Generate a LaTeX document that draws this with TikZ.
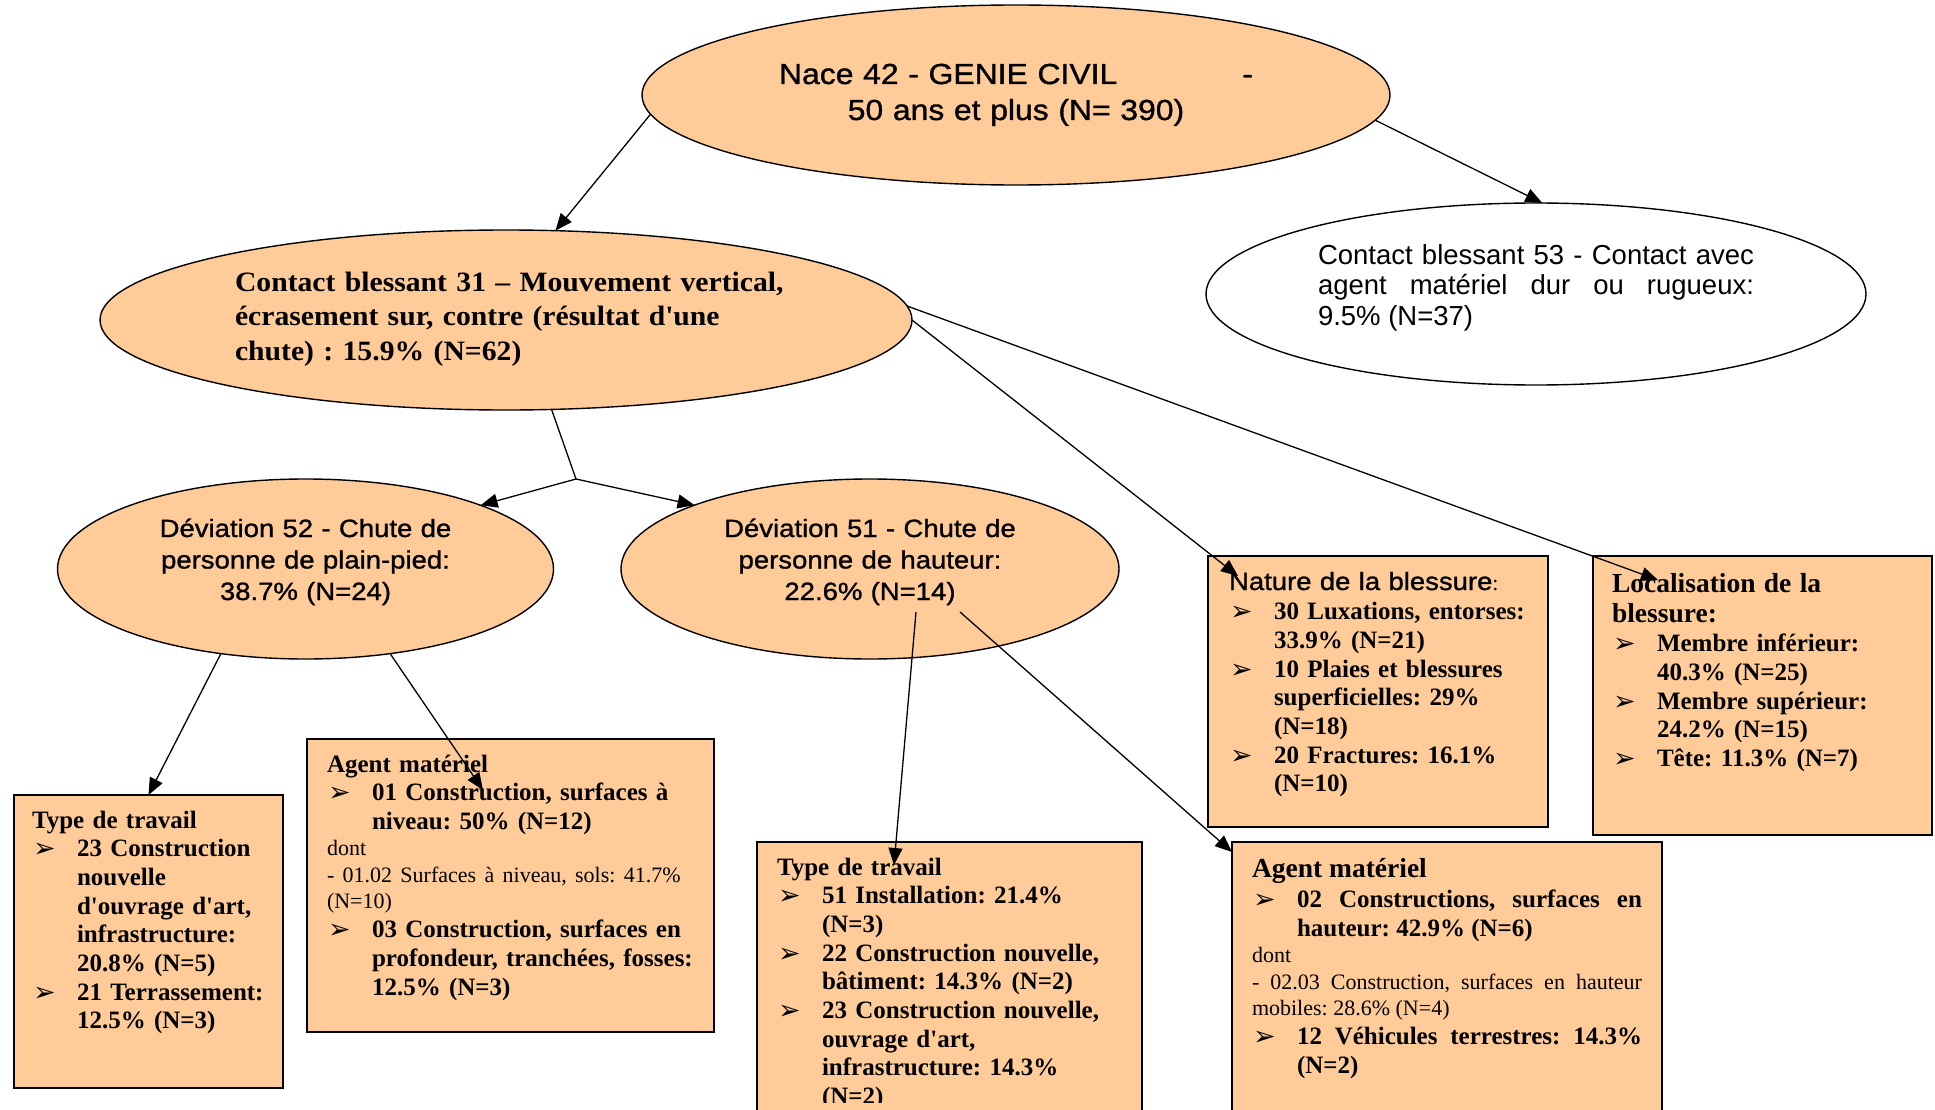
\documentclass[tikz,border=0pt]{standalone}
\usepackage{fontspec}
\setmainfont{Liberation Serif}
\newfontfamily\sansR{Liberation Sans}
\newfontfamily\sansW{Liberation Sans}[FakeStretch=1.1,FakeBold=1.1]
\newfontfamily\serifW{Liberation Serif}[FakeStretch=1.06]
\newfontfamily\dingf{DejaVu Sans}
\usetikzlibrary{arrows.meta,calc,shapes.geometric}
\definecolor{peach}{RGB}{255,204,153}

\newcommand\aq{\textquotesingle}
\newcommand\fl{\rule{0pt}{22pt}}
\newcommand\nl{\hfil\break}
\newcommand\bul{\smash{\raisebox{-1pt}{\dingf\fontsize{27}{27}\selectfont ➢}}}
\newcommand\itm[1]{\par\noindent\hangindent=45pt\hangafter=1\makebox[45pt][l]{\hspace{1pt}\bul}#1}

\tikzset{
  ov/.style={ellipse, draw=black, line width=1.4pt, fill=peach, inner sep=0pt, outer sep=0pt},
  bx/.style={rectangle, draw=black, line width=1.6pt, fill=peach, inner sep=0pt, outer sep=0pt, anchor=north west},
  tx/.style={inner sep=0pt, outer sep=0pt, anchor=north west, align=left, execute at begin node=\frenchspacing},
  boxfont/.style={font=\fontsize{25}{28.7}\selectfont\bfseries},
  conn/.style={line width=1.3pt, -{Triangle[length=17pt,width=14pt]}},
  seg/.style={line width=1.3pt},
}

\begin{document}
\begin{tikzpicture}[x=1pt,y=-1pt]
\useasboundingbox (0,0) rectangle (1935,1110);
\clip (0,0) rectangle (1935,1110);

% ---- ellipses ----
\node[ov, minimum width=748pt, minimum height=180pt] (nace) at (1016,95) {};
\node[ov, minimum width=812pt, minimum height=180pt] (c31) at (506,320) {};
\node[ov, fill=white, minimum width=660pt, minimum height=182pt] (c53) at (1536,294) {};
\node[ov, minimum width=496pt, minimum height=180pt] (dev52) at (305.5,569) {};
\node[ov, minimum width=498pt, minimum height=180pt] (dev51) at (870,569) {};

% ---- ellipse texts ----
\node[tx, anchor=north, text width=620pt, align=center, font=\sansW\fontsize{29}{36}\selectfont] (naceT) at (1016,62)
  {\fl Nace 42 - GENIE CIVIL\hspace{125pt}-\\ 50 ans et plus (N= 390)};
\node[tx, text width=600pt, font=\serifW\bfseries\fontsize{28}{34.5}\selectfont] (c31T) at (235,269)
  {\fl Contact blessant 31 – Mouvement vertical,\\ écrasement sur, contre (résultat d\aq une\\ chute) : 15.9\% (N=62)};
\node[tx, text width=436pt, align=justify, font=\sansR\fontsize{27.5}{30.5}\selectfont] (c53T) at (1318,242)
  {\noindent\fl Contact blessant 53 - Contact avec\linebreak agent matériel dur ou rugueux:\linebreak 9.5\% (N=37)};
\node[tx, anchor=north, text width=420pt, align=center, font=\sansW\fontsize{25}{31.5}\selectfont] (dev52T) at (305.5,515)
  {\fl Déviation 52 - Chute de\\ personne de plain-pied:\\ 38.7\% (N=24)};
\node[tx, anchor=north, text width=420pt, align=center, font=\sansW\fontsize{25}{31.5}\selectfont] (dev51T) at (870,515)
  {\fl Déviation 51 - Chute de\\ personne de hauteur:\\ 22.6\% (N=14)};

% ---- boxes ----
\node[bx, minimum width=269pt, minimum height=293pt] (ltt) at (14,795) {};
\node[bx, minimum width=407pt, minimum height=293pt] (lag) at (307,739) {};
\node[bx, minimum width=385pt, minimum height=300pt] (mtt) at (757,842) {};
\node[bx, minimum width=430pt, minimum height=300pt] (rag) at (1232,842) {};
\node[bx, minimum width=340pt, minimum height=271pt] (nat) at (1208,556) {};
\node[bx, minimum width=339pt, minimum height=279pt] (loc) at (1593,556) {};

% ---- box texts ----
\node[tx, boxfont, text width=245pt] (lttT) at (32,806) {%
  \noindent\fl Type de travail\par
  \itm{23 Construction\nl nouvelle\nl d\aq ouvrage d\aq art,\nl infrastructure:\nl 20.8\% (N=5)}\par
  \itm{21 Terrassement:\nl 12.5\% (N=3)}\par};

\node[tx, boxfont, text width=380pt] (lagT) at (327,750) {%
  \noindent\fl Agent matériel\par
  \itm{01 Construction, surfaces à\nl niveau: 50\% (N=12)}\par
  \fontsize{22}{26.5}\selectfont\mdseries
  \noindent dont\par
  \noindent - 01.02 Surfaces à niveau, sols: 41.7\%\\ (N=10)\par
  \fontsize{25}{28.7}\selectfont\bfseries
  \itm{03 Construction, surfaces en\nl profondeur, tranchées, fosses:\nl 12.5\% (N=3)}\par};

\begin{scope}
  \clip (757,842) rectangle (1142,1102);
  \node[tx, boxfont, text width=360pt] (mttT) at (777,853) {%
    \noindent\fl Type de travail\par
    \itm{51 Installation: 21.4\%\nl (N=3)}\par
    \itm{22 Construction nouvelle,\nl bâtiment: 14.3\% (N=2)}\par
    \itm{23 Construction nouvelle,\nl ouvrage d\aq art,\nl infrastructure: 14.3\%\nl (N=2)}\par};
\end{scope}

\node[tx, boxfont, text width=390pt, align=justify] (ragT) at (1252,855) {%
  \fontsize{27.5}{30}\selectfont
  \noindent\fl Agent matériel\par
  \vspace{2pt}
  \fontsize{25}{28.7}\selectfont
  \itm{02 Constructions, surfaces en\linebreak hauteur: 42.9\% (N=6)}\par
  \fontsize{22}{26.5}\selectfont\mdseries
  \noindent dont\par
  \noindent - 02.03 Construction, surfaces en hauteur\linebreak mobiles: 28.6\% (N=4)\par
  \fontsize{25}{28.7}\selectfont\bfseries
  \itm{12 Véhicules terrestres: 14.3\%\linebreak (N=2)}\par};

\node[tx, boxfont, text width=310pt] (natT) at (1229,568) {%
  \noindent\fl{\sansW\mdseries\fontsize{25}{30}\selectfont Nature de la blessure}{\mdseries\fontsize{22}{30}\selectfont :}\par
  \vspace{1pt}
  \itm{30 Luxations, entorses:\nl 33.9\% (N=21)}\par
  \itm{10 Plaies et blessures\nl superficielles: 29\%\nl (N=18)}\par
  \itm{20 Fractures: 16.1\%\nl (N=10)}\par};

\node[tx, boxfont, text width=310pt] (locT) at (1612,570) {%
  \fontsize{27.5}{30}\selectfont
  \noindent\fl Localisation de la\\ blessure:\par
  \fontsize{25}{28.7}\selectfont
  \vspace{1pt}
  \itm{Membre inférieur:\nl 40.3\% (N=25)}\par
  \itm{Membre supérieur:\nl 24.2\% (N=15)}\par
  \itm{Tête: 11.3\% (N=7)}\par};

% ---- connector end points ----
\coordinate (J) at (576,479);
\coordinate (lagTip) at (483,790);
\coordinate (mttTip) at (894,865);
\coordinate (natTip) at (1238,576);
\coordinate (locTip) at (1658,580);
\coordinate (ragTip) at (1232,852);
\coordinate (d51a) at ($(dev51.center)+(46,43)$);
\coordinate (d51b) at ($(dev51.center)+(90,43)$);

% ---- connectors ----
\draw[conn] (nace.183.5) -- (c31.61.5);
\draw[conn] (nace.356.5) -- (c53.86);
\draw[seg] (c31.297.8) -- (J);
\draw[conn] (J) -- (dev52.20);
\draw[conn] (J) -- (dev51.160.5);
\draw[conn] (c31.0.6) -- (natTip);
\draw[conn] (c31.2.6) -- (locTip);
\draw[conn] (dev52.225.2) -- (ltt.north);
\draw[conn] (dev52.315) -- (lagTip);
\draw[conn] (d51a) -- (mttTip);
\draw[conn] (d51b) -- (ragTip);
\end{tikzpicture}
\end{document}
